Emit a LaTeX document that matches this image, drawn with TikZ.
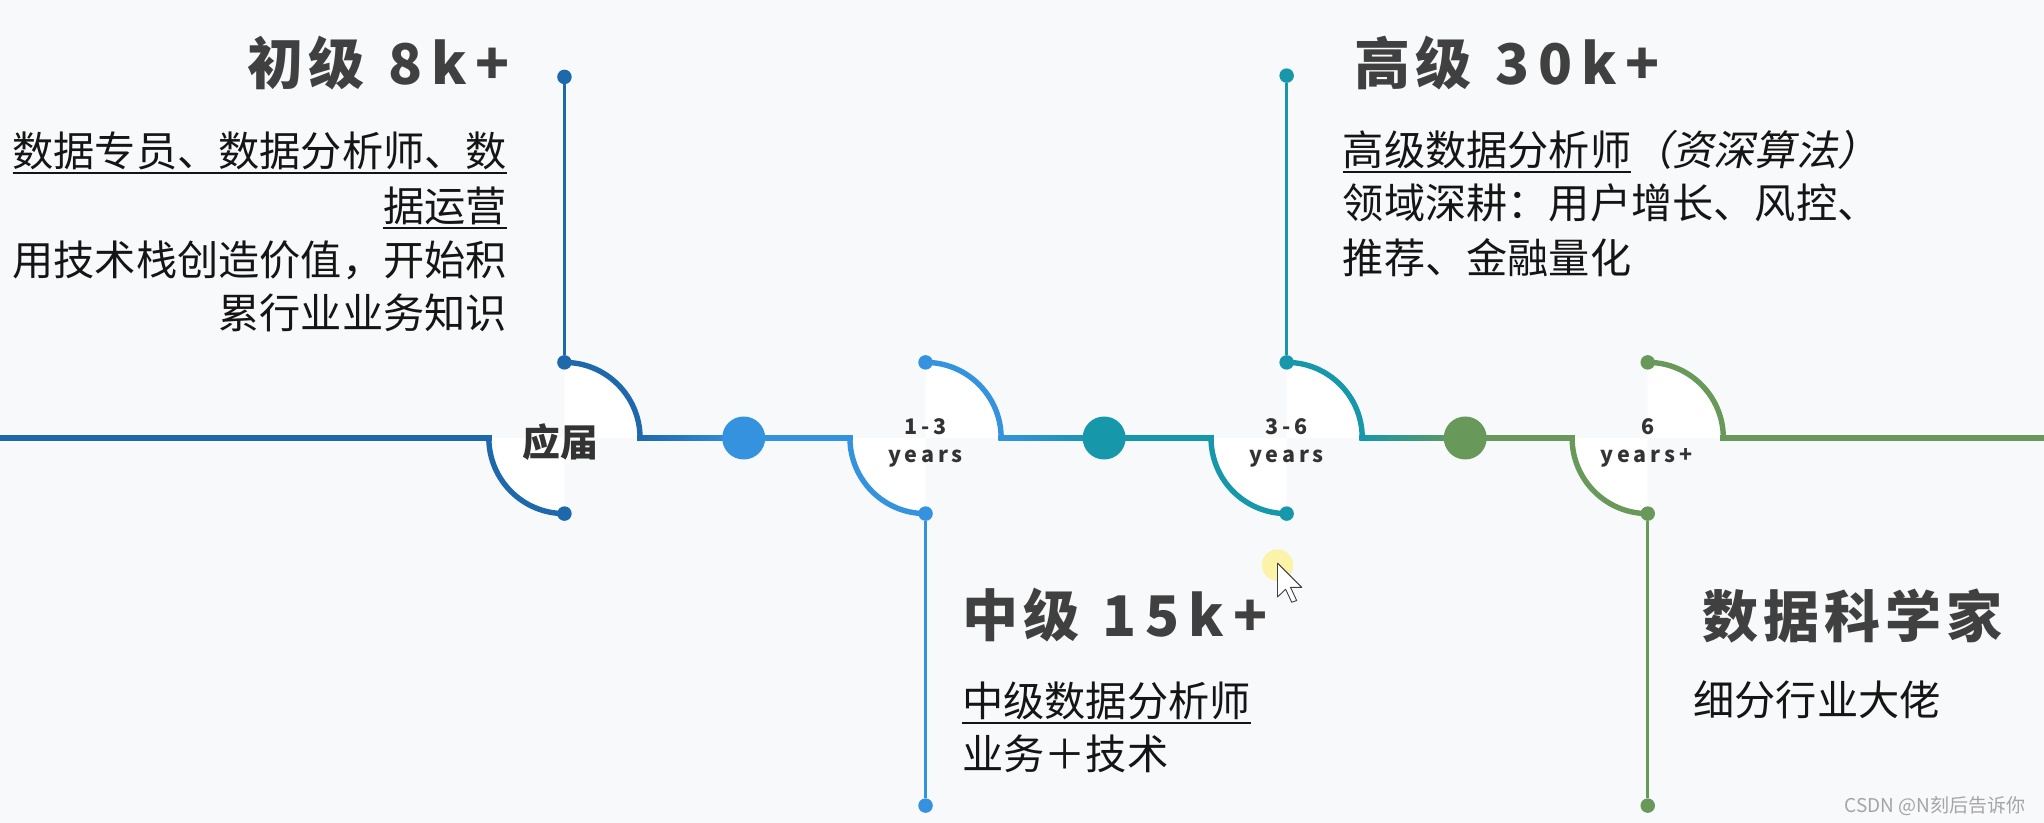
\documentclass[tikz,border=0pt]{standalone}
\usepackage{fontspec}
\setmainfont{Noto Sans CJK SC}
\definecolor{bg}{HTML}{F8F9FA}
\definecolor{cA}{HTML}{1E69AB}
\definecolor{cB}{HTML}{3592DE}
\definecolor{cC}{HTML}{1697AA}
\definecolor{cD}{HTML}{68995A}
\definecolor{ttl}{HTML}{404040}
\definecolor{bdy}{HTML}{151515}
\definecolor{stl}{HTML}{333333}
\definecolor{wm}{HTML}{A5A5A5}
\definecolor{hl}{HTML}{FBF29A}
\newcommand\myul[1]{\setbox0\hbox{#1}\rlap{\rule[-7pt]{\wd0}{1.8pt}}\box0}
\newcommand\lat[1]{{\addfontfeature{LetterSpace=16}#1}}
\begin{document}
\begin{tikzpicture}[x=1.3036pt,y=1.3036pt,
  title/.style={inner sep=0, text=ttl, font=\fontsize{56}{60}\selectfont\bfseries\addfontfeature{LetterSpace=9}},
  body/.style={inner sep=0, text=bdy, font=\fontsize{41.2}{50}\selectfont},
  stlab/.style={inner sep=0, text=stl, font=\fontsize{37.8}{40}\selectfont\bfseries},
  yrs/.style={inner sep=0, text=stl, font=\fontsize{21.5}{22}\selectfont\bfseries\addfontfeature{LetterSpace=18}},
  mainline/.style={line width=5.9pt},
  arcline/.style={line width=5.4pt},
  stem/.style={line width=2.8pt},
  sdot/.style={circle, inner sep=0, minimum size=14.5pt},
  bdot/.style={circle, inner sep=0, minimum size=43pt},
]
\useasboundingbox (0,0) rectangle (1568,631);
\fill[bg] (0,0) rectangle (1568,631);

% white quarter discs and arcs of the four stages
\foreach \cx/\col/\n in {433/cA/1, 710/cB/2, 987/cC/3, 1264/cD/4}{
  \fill[white] (\cx,295) -- (\cx,353) arc[start angle=90,end angle=0,radius=58] -- cycle;
  \fill[white] (\cx,295) -- (\cx-58,295) arc[start angle=180,end angle=270,radius=58] -- cycle;
  \draw[arcline,\col] (\cx-58,295) arc[start angle=180,end angle=270,radius=58];
  \draw[arcline,\col] (\cx,353) arc[start angle=90,end angle=0,radius=58];
  \node[sdot, fill=\col] (t\n) at (\cx,353) {};
  \node[sdot, fill=\col] (u\n) at (\cx,237) {};
}

% main line segments
\fill[cA] (0,292.75) rectangle (377.2,297.25);
\shade[left color=cA, right color=cB] (488.8,292.75) rectangle (570.5,297.25);
\fill[cB] (570.5,292.75) rectangle (654.2,297.25);
\shade[left color=cB, right color=cC] (765.8,292.75) rectangle (847,297.25);
\fill[cC] (847,292.75) rectangle (931.2,297.25);
\shade[left color=cC, right color=cD] (1042.8,292.75) rectangle (1124,297.25);
\fill[cD] (1124,292.75) rectangle (1208.2,297.25);
\fill[cD] (1319.8,292.75) rectangle (1568,297.25);

% big dots
\node[bdot, fill=cB] (m1) at (570.5,295) {};
\node[bdot, fill=cC] (m2) at (847,295) {};
\node[bdot, fill=cD] (m3) at (1124,295) {};

% stems
\node[sdot, fill=cA] (e1) at (433,572) {};
\node[sdot, fill=cB] (e2) at (710,13) {};
\node[sdot, fill=cC] (e3) at (987,573) {};
\node[sdot, fill=cD] (e4) at (1264,13) {};
\draw[stem, cA] (e1) -- (t1);
\draw[stem, cB] (u2) -- (e2);
\draw[stem, cC] (e3) -- (t3);
\draw[stem, cD] (u4) -- (e4);

% stage labels
\node[stlab, anchor=base] (l1) at (430,280.5) {应届};
\node[yrs, anchor=base] (l2a) at (710,298) {1-3};
\node[yrs, anchor=base] (l2b) at (710,276) {years};
\node[yrs, anchor=base] (l3a) at (987,298) {3-6};
\node[yrs, anchor=base] (l3b) at (987,276) {years};
\node[yrs, anchor=base] (l4a) at (1264,298) {6};
\node[yrs, anchor=base] (l4b) at (1263,276) {years+};

% titles
\node[title, anchor=base west] (h1) at (190,566.5) {初级\hspace{0.42em}\lat{8k+}};
\node[title, anchor=base west] (h2) at (738,142.5) {中级\hspace{0.42em}\lat{15k+}};
\node[title, anchor=base west] (h3) at (1039,566.5) {高级\hspace{0.42em}\lat{30k+}};
\node[title, anchor=base west] (h4) at (1306,142) {数据科学家};

% body texts
\node[body, anchor=base east] (b1) at (389,503) {\myul{数据专员、数据分析师、数}};
\node[body, anchor=base east] (b2) at (389,461) {\myul{据运营}};
\node[body, anchor=base east] (b3) at (389,419.5) {用技术栈创造价值，开始积};
\node[body, anchor=base east] (b4) at (389,379) {累行业业务知识};

\node[body, anchor=base west] (r1) at (1030,504) {\myul{高级数据分析师}{\addfontfeature{FakeSlant=0.2}（资深算法）}};
\node[body, anchor=base west] (r2) at (1030,463) {领域深耕：用户增长、风控、};
\node[body, anchor=base west] (r3) at (1030,421) {推荐、金融量化};

\node[body, anchor=base west] (c1) at (738,81) {\myul{中级数据分析师}};
\node[body, anchor=base west] (c2) at (738,41) {业务＋技术};

\node[body, anchor=base west] (d1) at (1299,82) {细分行业大佬};

% watermark
\node[inner sep=0, anchor=base west, text=wm, font=\fontsize{19}{20}\selectfont] (wmk) at (1415,8) {CSDN @N刻后告诉你};

% cursor highlight
\fill[hl, opacity=0.85] (980,197.5) circle[radius=12];
\filldraw[fill=white, draw=black!75, line width=0.9pt, line join=round] (980,199) -- ++(0,-26) -- ++(6.2,6) -- ++(4.7,-10) -- ++(3.8,1.3) -- ++(-4.7,10.1) -- ++(8.6,0) -- cycle;
\end{tikzpicture}
\end{document}
